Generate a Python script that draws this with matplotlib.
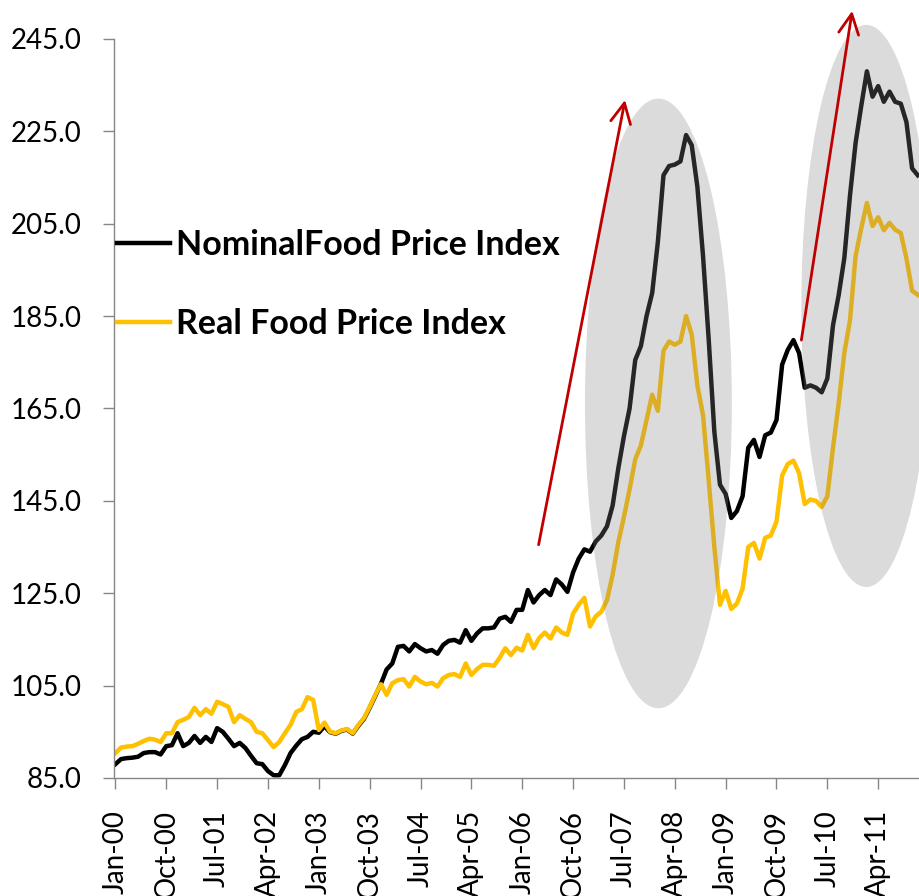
import numpy as np
import pandas as pd
import matplotlib
matplotlib.use('Agg')
import matplotlib.pyplot as plt
from matplotlib.patches import Ellipse
from matplotlib.lines import Line2D

plt.rcParams['font.family'] = ['Lato', 'DejaVu Sans']

# Monthly food price indices, Jan-2000 .. Nov-2011
months = pd.date_range('2000-01-01', periods=143, freq='MS')
nominal = [
    88.0, 89.1, 89.3, 89.4, 89.6, 90.4, 90.6, 90.6, 90.1, 91.9, 92.1, 94.7,
    91.9, 92.6, 94.1, 92.6, 93.9, 92.8, 95.8, 95.0, 93.5, 91.9, 92.6, 91.5,
    89.8, 88.2, 88.0, 86.5, 85.6, 85.6, 87.8, 90.4, 92.0, 93.4, 93.9, 95.0,
    94.8, 96.2, 94.9, 94.6, 95.2, 95.5, 94.6, 96.3, 97.8, 100.2, 102.8, 105.4,
    108.5, 109.8, 113.4, 113.6, 112.4, 114.0, 113.1, 112.4, 112.7, 111.9, 113.8, 114.7,
    114.9, 114.3, 117.0, 114.7, 116.3, 117.4, 117.4, 117.6, 119.5, 119.9, 118.8, 121.4,
    121.4, 125.7, 123.0, 124.6, 125.7, 124.6, 128.0, 126.9, 125.3, 129.5, 132.5, 134.5,
    134.0, 136.2, 137.5, 139.5, 144.0, 152.0, 159.0, 165.0, 175.5, 178.5, 185.0, 190.0,
    201.0, 215.5, 217.5, 217.8, 218.5, 224.2, 222.0, 213.0, 198.0, 180.0, 160.0, 148.5,
    146.5, 141.3, 142.8, 146.0, 156.5, 158.2, 154.5, 159.2, 159.8, 162.5, 174.5, 177.7,
    179.8, 177.0, 169.5, 170.0, 169.5, 168.5, 171.5, 183.0, 189.5, 197.5, 211.0, 222.5,
    230.5, 238.0, 232.5, 234.8, 231.4, 233.6, 231.4, 231.0, 227.0, 217.0, 215.5,
]
real = [
    90.4, 91.6, 91.8, 91.9, 92.4, 93.0, 93.5, 93.3, 92.8, 94.7, 94.7, 97.1,
    97.6, 98.2, 100.2, 98.6, 99.9, 98.9, 101.5, 101.0, 100.4, 97.1, 98.6, 97.8,
    97.1, 95.0, 94.7, 93.2, 91.7, 92.8, 94.7, 96.5, 99.3, 99.9, 102.5, 101.9,
    95.4, 97.0, 95.0, 94.7, 95.3, 95.6, 94.7, 96.5, 98.0, 100.4, 103.0, 105.3,
    103.0, 105.5, 106.2, 106.4, 104.8, 106.9, 105.9, 105.3, 105.6, 104.8, 106.6, 107.3,
    107.5, 106.9, 109.8, 107.3, 108.6, 109.5, 109.5, 109.3, 111.0, 113.1, 111.6, 113.2,
    112.6, 116.0, 113.1, 115.3, 116.5, 115.2, 117.6, 116.5, 116.0, 120.6, 122.5, 124.0,
    117.8, 120.0, 121.0, 123.5, 129.0, 136.0, 141.5, 147.5, 154.0, 157.0, 162.5, 168.0,
    164.5, 177.5, 179.5, 178.8, 179.5, 185.0, 181.0, 170.0, 163.5, 149.5, 135.0, 122.5,
    125.5, 121.6, 122.8, 126.0, 135.0, 135.9, 132.5, 137.0, 137.5, 140.5, 150.5, 153.0,
    153.7, 151.0, 144.3, 145.3, 145.0, 143.7, 146.0, 156.5, 166.0, 177.0, 184.0, 198.0,
    204.0, 209.5, 204.5, 206.4, 203.6, 205.2, 203.7, 203.0, 197.5, 190.5, 189.6,
]
labels = [m.strftime('%b-%y') for m in months]
yticks = [85, 105, 125, 145, 165, 185, 205, 225, 245]

# annotation shapes (data coords: month index, index value)
ellipses = [((96.1, 166.1), 26.0, 132.0), ((132.9, 187.2), 23.0, 121.7)]
arrows = [((74.9, 135.5), (90.2, 231.8)), ((121.4, 179.8), (130.4, 251.1))]

fig = plt.figure(figsize=(9.2, 8.96), dpi=100)
ax = fig.add_axes([0.1236, 0.1317, 0.8764, 0.8248])

x = np.arange(len(months))
ax.plot(x, nominal, color='black', lw=3.2, zorder=2, solid_joinstyle='round')
ax.plot(x, real, color='#FFC000', lw=3.2, zorder=2.1, solid_joinstyle='round')

for (c, w, h) in ellipses:
    ax.add_patch(Ellipse(c, w, h, facecolor='#858585', edgecolor='none',
                         alpha=0.29, zorder=3, clip_on=False))
for (s, e) in arrows:
    ax.annotate('', xy=e, xytext=s, annotation_clip=False, zorder=4,
                arrowprops=dict(arrowstyle='->,head_length=0.4,head_width=0.2',
                                color='#C00000', lw=2, mutation_scale=36,
                                shrinkA=0, shrinkB=0))

ax.set_xlim(-0.3, 142.4)
ax.set_ylim(85, 245)
ax.set_yticks(yticks)
ax.set_yticklabels([f'{v:.1f}' for v in yticks])
ax.set_xticks(x[::9])
ax.set_xticklabels(labels[::9], rotation=90, va='top', ha='center')

for s in ['top', 'right']:
    ax.spines[s].set_visible(False)
for s in ['left', 'bottom']:
    ax.spines[s].set_color('#868686')
    ax.spines[s].set_linewidth(1)
ax.tick_params(axis='y', length=8, width=1, color='#868686', labelsize=20, pad=15)
ax.tick_params(axis='x', length=8, width=1, color='#868686', labelsize=20, pad=15)

handles = [Line2D([], [], color='black', lw=3.2),
           Line2D([], [], color='#FFC000', lw=3.2)]
ax.legend(handles, ['NominalFood Price Index', 'Real Food Price Index'],
          loc='upper left', bbox_to_anchor=(0.004, 0.743), frameon=False,
          prop={'weight': 'bold', 'size': 24.5}, handlelength=1.56,
          handletextpad=0.18, labelspacing=1.37, borderpad=0, borderaxespad=0)

fig.savefig('out.png', dpi=100)
